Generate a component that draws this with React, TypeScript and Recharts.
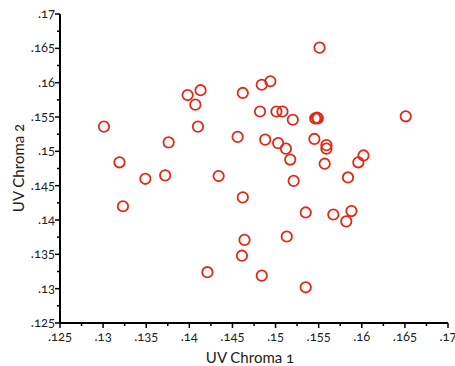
import { Scatter, ScatterChart, XAxis, YAxis } from "recharts";

// UV chroma pairs, one entry per specimen
const uvChroma1 = [
  0.1301, 0.1319, 0.1323, 0.1349, 0.1372, 0.1376, 0.1398, 0.1407, 0.1413, 0.141,
  0.1421, 0.1434, 0.1456, 0.1462, 0.1462, 0.1464, 0.1461, 0.1484, 0.1484, 0.1494,
  0.1482, 0.1488, 0.1501, 0.1508, 0.1503, 0.1512, 0.152, 0.1517, 0.1521, 0.1513,
  0.1535, 0.1535, 0.1551, 0.1546, 0.1548, 0.1549, 0.1545, 0.1559, 0.1559, 0.1557,
  0.1567, 0.1584, 0.1582, 0.1588, 0.1596, 0.1602, 0.1651,
];
const uvChroma2 = [
  0.1536, 0.1484, 0.142, 0.146, 0.1465, 0.1513, 0.1582, 0.1568, 0.1589, 0.1536,
  0.1324, 0.1464, 0.1521, 0.1585, 0.1433, 0.1371, 0.1348, 0.1319, 0.1597, 0.1602,
  0.1558, 0.1517, 0.1558, 0.1558, 0.1512, 0.1504, 0.1546, 0.1488, 0.1457, 0.1376,
  0.1411, 0.1302, 0.1651, 0.1548, 0.1549, 0.1548, 0.1518, 0.1509, 0.1504, 0.1482,
  0.1408, 0.1462, 0.1398, 0.1413, 0.1484, 0.1494, 0.1551,
];

// major ticks every .005, minor ticks halfway between
const axisTicks = [
  0.125, 0.1275, 0.13, 0.1325, 0.135, 0.1375, 0.14, 0.1425, 0.145, 0.1475, 0.15,
  0.1525, 0.155, 0.1575, 0.16, 0.1625, 0.165, 0.1675, 0.17,
];
const domain: [number, number] = [0.125, 0.17];

const data = uvChroma1.map((x, i) => ({ x, y: uvChroma2[i] }));

const RED = "#e02a17";
const isMajor = (v: number) => Math.round(v * 10000) % 50 === 0;
const fmt = (v: number) => String(Number(v.toFixed(4))).replace(/^0/, "");

const textStyle = { fontSize: 13, fill: "#222" };

function XTick({ x, y, payload }: any) {
  const major = isMajor(payload.value);
  return (
    <g>
      <line x1={x} x2={x} y1={y} y2={y + (major ? 5 : 3)} stroke="#000" strokeWidth={1.5} />
      {major && (
        <text x={x} y={y + 18} textAnchor="middle" style={textStyle}>
          {fmt(payload.value)}
        </text>
      )}
    </g>
  );
}

function YTick({ x, y, payload }: any) {
  const major = isMajor(payload.value);
  return (
    <g>
      <line x1={x} x2={x - (major ? 5 : 3)} y1={y} y2={y} stroke="#000" strokeWidth={1.5} />
      {major && (
        <text x={x - 5} y={y + 4} textAnchor="end" style={textStyle}>
          {fmt(payload.value)}
        </text>
      )}
    </g>
  );
}

function Ring({ cx, cy }: any) {
  return <circle cx={cx} cy={cy} r={5.2} fill="none" stroke={RED} strokeWidth={1.8} />;
}

export default function App() {
  return (
    <div
      style={{
        position: "absolute",
        left: 0,
        top: 0,
        fontFamily: "Lato, 'Open Sans', sans-serif",
        fontVariantNumeric: "oldstyle-nums",
        background: "#fff",
      }}
    >
      <ScatterChart width={455} height={366} margin={{ top: 14, right: 7, bottom: 0, left: 0 }}>
        <XAxis
          type="number"
          dataKey="x"
          domain={domain}
          ticks={axisTicks}
          interval={0}
          allowDataOverflow
          height={43}
          tickSize={0}
          tickMargin={0}
          tick={<XTick />}
          axisLine={{ stroke: "#000", strokeWidth: 2 }}
          label={({ viewBox }: any) => (
            <text
              x={viewBox.x + viewBox.width / 2 - 4}
              y={viewBox.y + 40}
              textAnchor="middle"
              style={{ fontSize: 15, fill: "#222" }}
            >
              UV Chroma 1
            </text>
          )}
        />
        <YAxis
          type="number"
          dataKey="y"
          domain={domain}
          ticks={axisTicks}
          interval={0}
          allowDataOverflow
          width={60}
          tickSize={0}
          tickMargin={0}
          tick={<YTick />}
          axisLine={{ stroke: "#000", strokeWidth: 2 }}
          label={() => (
            <text
              x={24}
              y={168}
              transform="rotate(-90 24 168)"
              textAnchor="middle"
              style={{ fontSize: 15, fill: "#222" }}
            >
              UV Chroma 2
            </text>
          )}
        />
        <Scatter data={data} shape={<Ring />} isAnimationActive={false} />
      </ScatterChart>
    </div>
  );
}
